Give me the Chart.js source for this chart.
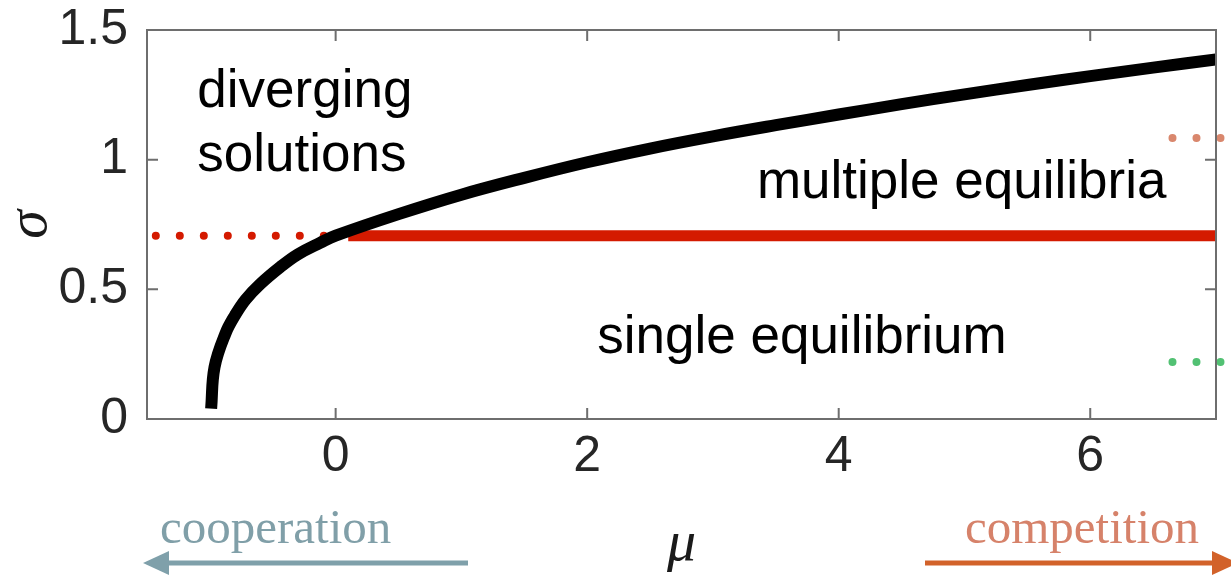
<!DOCTYPE html>
<html>
<head>
<meta charset="utf-8">
<script src="https://cdn.jsdelivr.net/npm/chart.js@4"></script>
<style>
  html, body { margin: 0; padding: 0; background: #fff; }
  #wrap { width: 1231px; height: 576px; }
</style>
</head>
<body>
<div id="wrap"><canvas id="phaseChart"></canvas></div>
<script>
// boundary between bounded and diverging solutions
const boundaryMu    = [-0.99, -0.963, -0.876, -0.8, -0.717, -0.6, -0.44, -0.3, -0.12, 0, 0.5, 1, 1.5, 2, 2.5, 3, 3.5, 4, 4.5, 5, 5.5, 6, 6.5, 7];
const boundarySigma = [0.04, 0.20, 0.33, 0.40, 0.46, 0.52, 0.586, 0.635, 0.68, 0.707, 0.79, 0.865, 0.93, 0.99, 1.043, 1.09, 1.133, 1.174, 1.214, 1.252, 1.288, 1.322, 1.355, 1.386];

// single / multiple equilibria threshold
const thresholdMu = [0.1, 7];
const thresholdSigma = [0.707, 0.707];
const thresholdDottedMu = [-1.43, -0.08];

// short dotted markers on the right edge
const markerMu = [6.654, 7.3];
const upperMarkerSigma = [1.084, 1.084];
const lowerMarkerSigma = [0.22, 0.22];

const xTicks = [0, 2, 4, 6];
const yTicks = [0, 0.5, 1, 1.5];

const regionLabels = [
	{ lines: ['diverging', 'solutions'], mu: -1.1, sigma: 1.205 },
	{ lines: ['multiple equilibria'], mu: 3.35, sigma: 0.852 },
	{ lines: ['single equilibrium'], mu: 2.08, sigma: 0.255 }
];

const RED = '#d41a00';
const FRAME = '#6e6e6e';
const SANS = '"Liberation Sans", Arial, sans-serif';
const SERIF = '"Liberation Serif", "Times New Roman", serif';

function pares(xs, ys) {
	return xs.map((x, i) => ({ x: x, y: ys[i] }));
}

// frame, inward ticks, region labels, axis symbols and arrows
const decoracoes = {
	id: 'decoracoes',
	afterDatasetsDraw(chart) {
		const ctx = chart.ctx;
		const a = chart.chartArea;
		const sx = chart.scales.x;
		const sy = chart.scales.y;
		ctx.save();

		ctx.strokeStyle = FRAME;
		ctx.lineWidth = 2;
		ctx.strokeRect(a.left, a.top, a.right - a.left, a.bottom - a.top);
		ctx.beginPath();
		xTicks.forEach(v => {
			const px = sx.getPixelForValue(v);
			ctx.moveTo(px, a.bottom); ctx.lineTo(px, a.bottom - 11);
			ctx.moveTo(px, a.top); ctx.lineTo(px, a.top + 11);
		});
		yTicks.forEach(v => {
			const py = sy.getPixelForValue(v);
			ctx.moveTo(a.left, py); ctx.lineTo(a.left + 11, py);
			ctx.moveTo(a.right, py); ctx.lineTo(a.right - 11, py);
		});
		ctx.stroke();

		ctx.fillStyle = '#000';
		ctx.font = '53px ' + SANS;
		ctx.textAlign = 'left';
		ctx.textBaseline = 'alphabetic';
		regionLabels.forEach(r => {
			const px = sx.getPixelForValue(r.mu);
			const py = sy.getPixelForValue(r.sigma);
			r.lines.forEach((t, i) => ctx.fillText(t, px, py + i * 64));
		});

		// axis symbols
		ctx.fillStyle = '#1a1a1a';
		ctx.font = 'italic 58px ' + SERIF;
		ctx.textAlign = 'center';
		ctx.fillText('\u03bc', (a.left + a.right) / 2, 560);
		ctx.save();
		ctx.translate(46, (a.top + a.bottom) / 2);
		ctx.rotate(-Math.PI / 2);
		ctx.fillText('\u03c3', 0, 0);
		ctx.restore();

		// cooperation / competition arrows
		ctx.font = '49px ' + SERIF;
		ctx.textAlign = 'left';
		ctx.fillStyle = '#809fa8';
		ctx.fillText('cooperation', 160, 543);
		ctx.fillStyle = '#d6826a';
		ctx.fillText('competition', 965, 543);

		seta(ctx, 468, 143, 563, '#7fa0aa');
		seta(ctx, 925, 1238, 563, '#d2622a');
		ctx.restore();
	}
};

function seta(ctx, x0, tip, y, cor) {
	const dir = tip > x0 ? 1 : -1;
	const base = tip - dir * 26;
	ctx.strokeStyle = cor;
	ctx.fillStyle = cor;
	ctx.lineWidth = 5;
	ctx.beginPath();
	ctx.moveTo(x0, y);
	ctx.lineTo(base, y);
	ctx.stroke();
	ctx.beginPath();
	ctx.moveTo(tip, y);
	ctx.lineTo(base, y - 12);
	ctx.lineTo(base, y + 12);
	ctx.closePath();
	ctx.fill();
}

function pontilhado(dados, cor) {
	return {
		data: dados,
		showLine: true,
		borderColor: cor,
		borderWidth: 8,
		borderDash: [0, 24],
		borderCapStyle: 'round',
		pointRadius: 0,
		clip: false
	};
}

window.onload = function () {
	const contexto = document.getElementById('phaseChart').getContext('2d');
	new Chart(contexto, {
		type: 'scatter',
		data: {
			datasets: [
				{
					data: pares(boundaryMu, boundarySigma),
					showLine: true,
					borderColor: '#000',
					borderWidth: 12,
					tension: 0.4,
					pointRadius: 0
				},
				{
					data: pares(thresholdMu, thresholdSigma),
					showLine: true,
					borderColor: RED,
					borderWidth: 11,
					pointRadius: 0
				},
				pontilhado(pares(thresholdDottedMu, [0.707, 0.707]), RED),
				pontilhado(pares(markerMu, upperMarkerSigma), '#d9876d'),
				pontilhado(pares(markerMu, lowerMarkerSigma), '#52c173')
			]
		},
		options: {
			responsive: true,
			maintainAspectRatio: false,
			animation: false,
			layout: { padding: { top: 30, right: 15, left: 0, bottom: 0 } },
			plugins: { legend: { display: false }, tooltip: { enabled: false } },
			scales: {
				x: {
					type: 'linear',
					min: -1.5,
					max: 7,
					afterBuildTicks: s => { s.ticks = xTicks.map(v => ({ value: v })); },
					afterFit: s => { s.height = 157; s.paddingLeft = 0; s.paddingRight = 0; },
					grid: { display: false, drawTicks: false },
					border: { display: false },
					ticks: {
						padding: 8,
						color: '#262626',
						font: { family: SANS, size: 50 },
						callback: v => String(v)
					}
				},
				y: {
					type: 'linear',
					min: 0,
					max: 1.5,
					afterBuildTicks: s => { s.ticks = yTicks.map(v => ({ value: v })); },
					afterFit: s => { s.width = 147; s.paddingTop = 0; s.paddingBottom = 0; },
					grid: { display: false, drawTicks: false },
					border: { display: false },
					ticks: {
						padding: 19,
						color: '#262626',
						font: { family: SANS, size: 50 },
						callback: v => String(v)
					}
				}
			}
		},
		plugins: [decoracoes]
	});
}
</script>
</body>
</html>
